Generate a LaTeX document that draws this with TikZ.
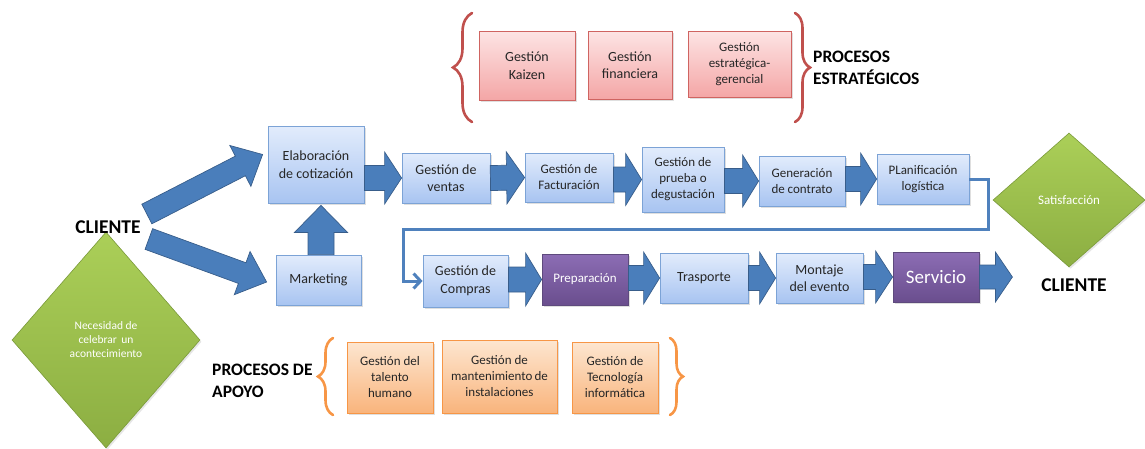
\documentclass[tikz,border=0pt]{standalone}
\usepackage{fontspec}
\setmainfont{Carlito}
\usetikzlibrary{calc,shapes.geometric,shadows,decorations.pathreplacing,arrows.meta}

\definecolor{txtdark}{HTML}{262626}
\definecolor{bluetop}{HTML}{E2ECFC}
\definecolor{bluebot}{HTML}{A8C4F1}
\definecolor{blueedge}{HTML}{7CA3D6}
\definecolor{arrfill}{HTML}{4A7EBB}
\definecolor{arredge}{HTML}{385D8A}
\definecolor{redtop}{HTML}{FDE4E4}
\definecolor{redbot}{HTML}{F4A6A6}
\definecolor{rededge}{HTML}{CF6461}
\definecolor{redbrace}{HTML}{C0504D}
\definecolor{orgtop}{HTML}{FDE6D0}
\definecolor{orgbot}{HTML}{F9B47C}
\definecolor{orgedge}{HTML}{F79646}
\definecolor{purtop}{HTML}{8C6DB4}
\definecolor{purbot}{HTML}{6A4E8E}
\definecolor{puredge}{HTML}{5E4A7D}
\definecolor{grntop}{HTML}{ABCF58}
\definecolor{grnbot}{HTML}{8CAE42}
\definecolor{grnedge}{HTML}{7A9A3A}
\definecolor{linkblue}{HTML}{4F81BD}

% block arrow: start, end, shaft half width, head half width, head length
\newcommand\blockarrow[5]{%
  \coordinate (hb) at ($(#2)!#5!(#1)$);
  \draw[blockarr] ($(#1)!#3!90:(#2)$) -- ($(hb)!#3!90:(#2)$) -- ($(hb)!#4!90:(#2)$)
    -- (#2) -- ($(hb)!#4!-90:(#2)$) -- ($(hb)!#3!-90:(#2)$) -- ($(#1)!#3!-90:(#2)$) -- cycle;
}

\begin{document}
\begin{tikzpicture}[x=1pt,y=-1pt,
  t11/.style={font=\fontsize{11.5}{14}\selectfont},
  t13/.style={font=\fontsize{13}{16}\selectfont},
  t14/.style={font=\fontsize{14}{17.5}\selectfont},
  t19/.style={font=\fontsize{19}{22}\selectfont},
  heading/.style={font=\fontsize{17.5}{22}\selectfont\bfseries, text=black, align=left, inner sep=0pt},
  client/.style={font=\fontsize{19.5}{22}\selectfont\bfseries, text=black, inner sep=0pt},
  box/.style={rectangle, inner sep=0pt, align=center, text=txtdark, line width=0.8pt,
    drop shadow={opacity=0.25, shadow xshift=1.5pt, shadow yshift=-1.8pt}},
  bluebox/.style={box, draw=blueedge, top color=bluetop, bottom color=bluebot},
  redbox/.style={box, draw=rededge, top color=redtop, bottom color=redbot},
  orgbox/.style={box, draw=orgedge, top color=orgtop, bottom color=orgbot},
  purbox/.style={box, draw=puredge, top color=purtop, bottom color=purbot, text=white},
  greendia/.style={diamond, aspect=1, inner sep=0pt, align=center, text=white, draw=grnedge,
    line width=0.6pt, top color=grntop, bottom color=grnbot,
    drop shadow={opacity=0.2, shadow xshift=1.5pt, shadow yshift=-1.8pt}},
  blockarr/.style={fill=arrfill, draw=arredge, line width=0.7pt, line join=miter},
  bracepath/.style={decorate, line width=2.6pt, line cap=round},
  link/.style={draw=linkblue, line width=3pt, -{Straight Barb[length=7pt,width=15pt]}}]

\useasboundingbox (0,0) rectangle (1145,448);

% strategic processes
\node[redbox, t14, minimum width=96, minimum height=69] (kaizen) at (527,65.5) {Gestión\\Kaizen};
\node[redbox, t14, minimum width=84, minimum height=68] (finan) at (630,65) {Gestión\\financiera};
\node[redbox, t13, minimum width=103, minimum height=66] (estrat) at (739.5,64) {Gestión\\estratégica-\\gerencial};
\draw[bracepath, draw=redbrace, decoration={brace, amplitude=19pt}] (472,122) -- (472,13);
\draw[bracepath, draw=redbrace, decoration={brace, amplitude=15pt}] (795,13) -- (795,122);
\node[heading, anchor=west] (pe) at (813,67.5) {PROCESOS\\ESTRATÉGICOS};

% support processes
\node[orgbox, t13, minimum width=86, minimum height=71] (talento) at (390,377.5) {Gestión del\\talento\\humano};
\node[orgbox, t13, minimum width=115, minimum height=73] (mant) at (499.5,376.5) {Gestión de\\mantenimiento\,de\\instalaciones};
\node[orgbox, t13, minimum width=86, minimum height=71] (tec) at (615,377.5) {Gestión de\\Tecnología\\informática};
\draw[bracepath, draw=orgedge, decoration={brace, amplitude=15pt}] (333,415) -- (333,338);
\draw[bracepath, draw=orgedge, decoration={brace, amplitude=13pt}] (670,338) -- (670,415);
\node[heading, anchor=west] (pa) at (212,380.5) {PROCESOS DE\\APOYO};

% customer side
\node[greendia, t11, minimum width=188, minimum height=216] (need) at (106,340) {Necesidad de\\celebrar\, un\\acontecimiento};
\node[client] (cli1) at (108,227) {CLIENTE};
\node[greendia, t13, minimum width=152, minimum height=134] (sat) at (1069,200) {Satisfacción};
\node[client] (cli2) at (1074,285) {CLIENTE};

% main chain, first row
\node[bluebox, t14, minimum width=96, minimum height=77] (elab) at (316,164.5) {Elaboración\\de cotización};
\node[bluebox, t14, minimum width=85, minimum height=50] (mkt) at (318.5,280) {Marketing};
\node[bluebox, t14, minimum width=88, minimum height=50] (ventas) at (446,178) {Gestión de\\ventas};
\node[bluebox, t13, minimum width=88, minimum height=49] (fact) at (569,177.5) {Gestión de\\Facturación};
\node[bluebox, t13, minimum width=82, minimum height=65] (prueba) at (683,179.5) {Gestión de\\prueba o\\degustación};
\node[bluebox, t13, minimum width=86, minimum height=50] (gen) at (802,181) {Generación\\de contrato};
\node[bluebox, t13, minimum width=92, minimum height=50] (plan) at (923,179) {PLanificación\\logística};

% main chain, second row
\node[bluebox, t14, minimum width=85, minimum height=52] (compras) at (465.5,281) {Gestión de\\Compras};
\node[purbox, t13, minimum width=86, minimum height=51] (prep) at (585,279.5) {Preparación};
\node[bluebox, t14, minimum width=88, minimum height=50] (tras) at (704,278) {Trasporte};
\node[bluebox, t14, minimum width=87, minimum height=50] (mont) at (819.5,278) {Montaje\\del evento};
\node[purbox, t19, minimum width=86, minimum height=50] (serv) at (936,277) {Servicio};

% block arrows from the customer
\coordinate (c1a) at ($(cli1.east)+(6,-13)$);
\coordinate (c1b) at ($(elab.west)+(-5,-10)$);
\blockarrow{c1a}{c1b}{11pt}{23pt}{25pt}
\coordinate (c2a) at ($(cli1.east)+(8,12)$);
\coordinate (c2b) at ($(mkt.west)+(-9,2)$);
\blockarrow{c2a}{c2b}{11pt}{23pt}{26pt}
\coordinate (u1) at ($(mkt.north)+(2.5,0)$);
\coordinate (u2) at ($(elab.south)+(5,2)$);
\blockarrow{u1}{u2}{13pt}{26.5pt}{27pt}

% block arrows along the chain
\coordinate (s1) at (elab.east |- ventas.west);
\blockarrow{s1}{ventas.west}{12.5pt}{26pt}{17pt}
\blockarrow{ventas.east}{fact.west}{12.5pt}{26pt}{18pt}
\coordinate (s3) at (fact.east |- prueba.west);
\blockarrow{s3}{prueba.west}{12.5pt}{26pt}{16pt}
\coordinate (s4) at (prueba.east |- gen.west);
\blockarrow{s4}{gen.west}{12.5pt}{26pt}{16pt}
\coordinate (s5) at (gen.east |- plan.west);
\blockarrow{s5}{plan.west}{12.5pt}{26pt}{16pt}
\coordinate (s6) at (compras.east |- prep.west);
\blockarrow{s6}{prep.west}{12.5pt}{26.5pt}{16pt}
\coordinate (s7) at (prep.east |- tras.west);
\blockarrow{s7}{tras.west}{12.5pt}{26pt}{16pt}
\blockarrow{tras.east}{mont.west}{12.5pt}{26pt}{16pt}
\coordinate (s9) at (mont.east |- serv.west);
\blockarrow{s9}{serv.west}{12.5pt}{26pt}{17pt}
\coordinate (out) at ($(serv.east)+(33,0)$);
\blockarrow{serv.east}{out}{12pt}{25pt}{17pt}

% return line from the first row to the second
\coordinate (r1) at (988,229);
\coordinate (r2) at (403,229);
\draw[link] (plan.east) -| (r1) -- (r2) |- (compras.west);

\end{tikzpicture}
\end{document}
